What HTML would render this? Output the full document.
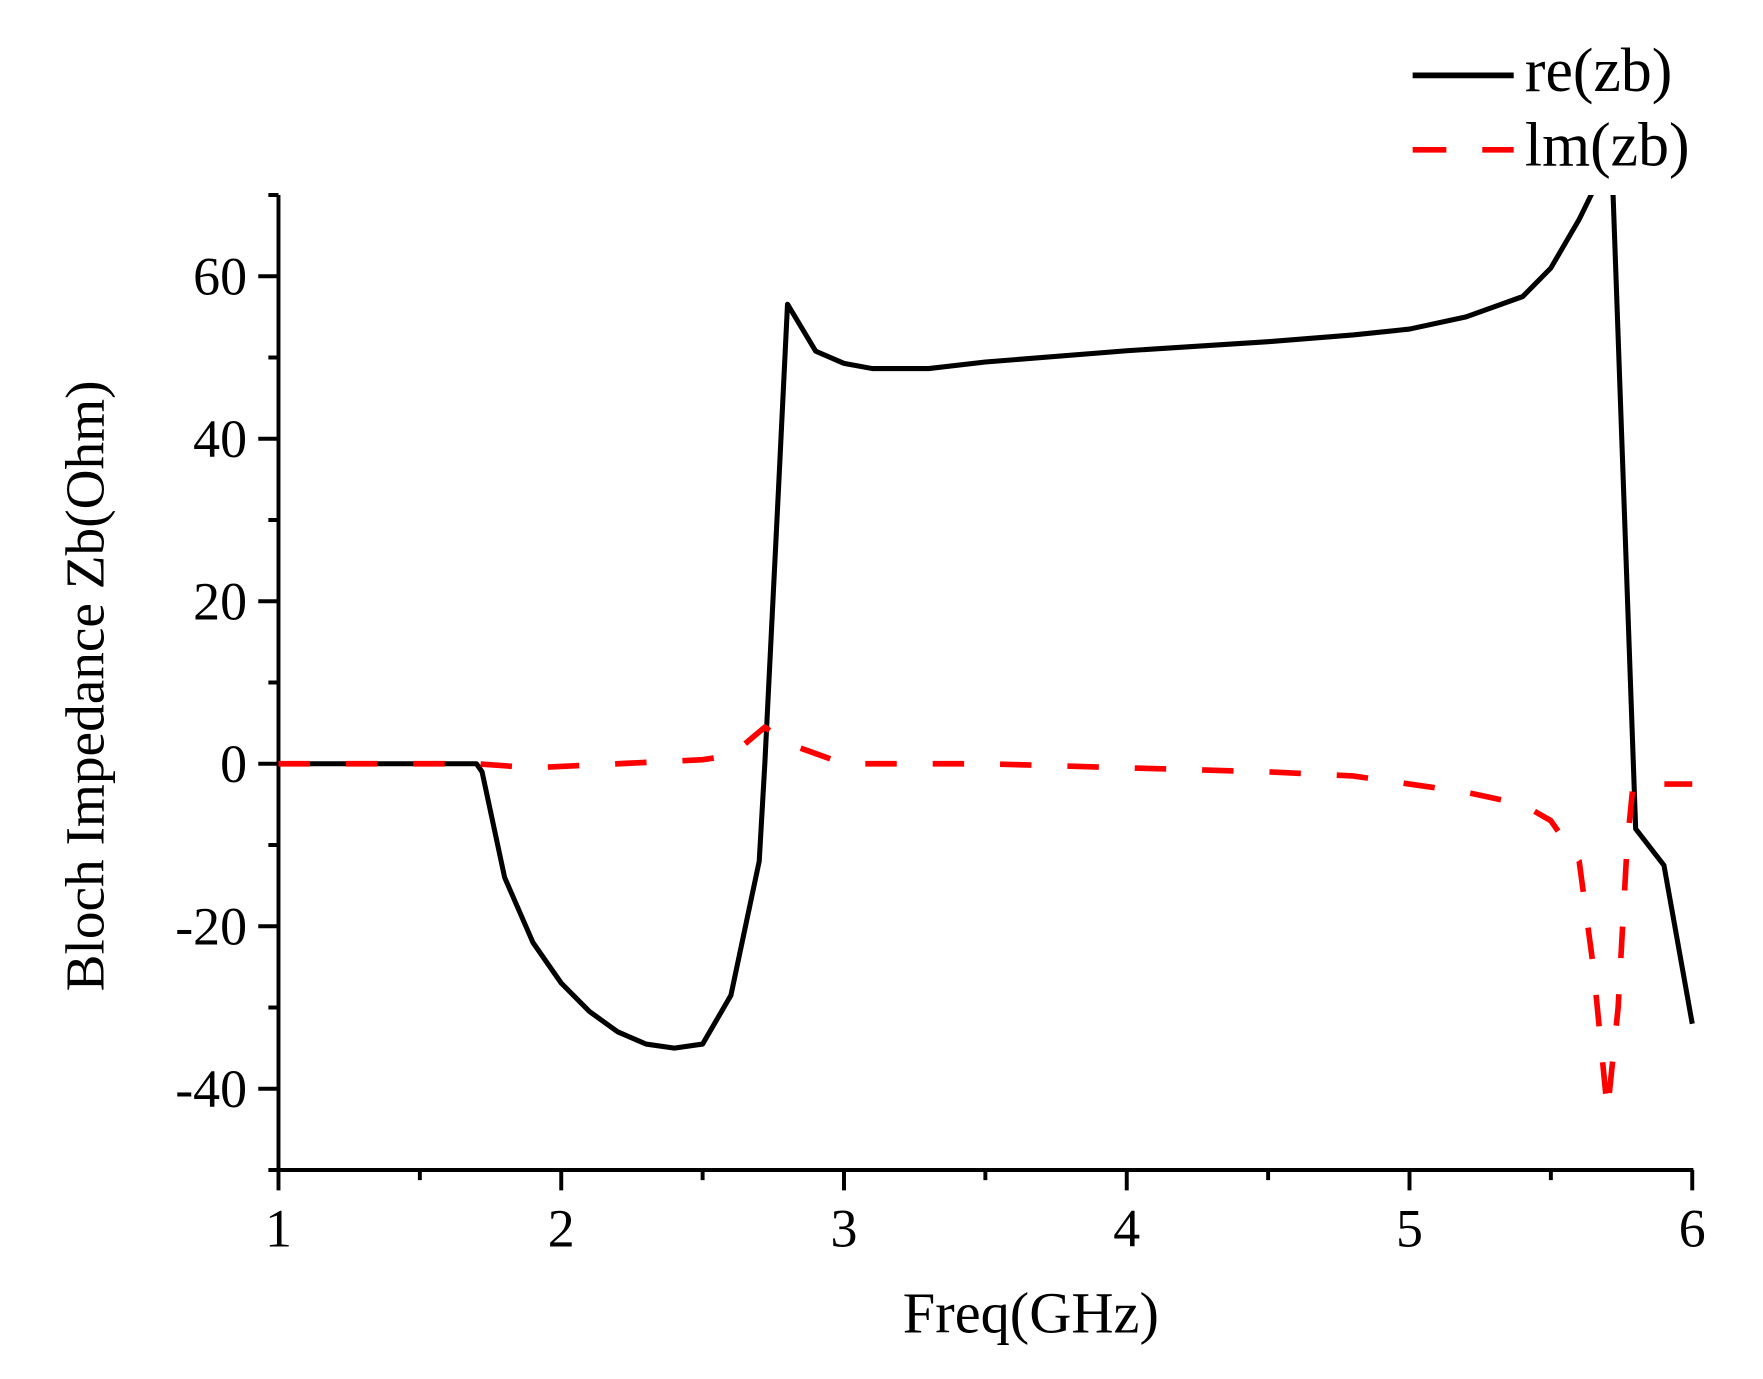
<!DOCTYPE html>
<html><head><meta charset="utf-8"><style>html,body{margin:0;padding:0;background:#fff}svg{display:block}</style></head>
<body>
<svg width="1763" height="1379" viewBox="0 1.2 1570 1222" preserveAspectRatio="none" xmlns="http://www.w3.org/2000/svg" font-family="Liberation Serif, serif">
<defs><clipPath id="c"><rect x="248" y="174" width="1262" height="864"/></clipPath></defs>
<g stroke="#000" stroke-width="3.5" fill="none">
<line x1="248" y1="174" x2="248" y2="1040"/>
<line x1="246" y1="1038" x2="1508" y2="1038"/>
<path d="M248 1038v18M499.8 1038v18M751.6 1038v18M1003.4 1038v18M1255.2 1038v18M1507 1038v18M373.9 1038v9M625.7 1038v9M877.5 1038v9M1129.3 1038v9M1381.1 1038v9"/>
<path d="M248 966h-18M248 822h-18M248 678h-18M248 534h-18M248 390h-18M248 246h-18M248 1038h-9M248 894h-9M248 750h-9M248 606h-9M248 462h-9M248 318h-9M248 174h-9"/>
</g>
<g font-size="48" fill="#000" text-anchor="middle">
<text x="248" y="1106">1</text><text x="499.8" y="1106">2</text><text x="751.6" y="1106">3</text><text x="1003.4" y="1106">4</text><text x="1255.2" y="1106">5</text><text x="1507" y="1106">6</text>
</g>
<g font-size="48" fill="#000" text-anchor="end">
<text x="220" y="982">-40</text><text x="220" y="838">-20</text><text x="220" y="694">0</text><text x="220" y="550">20</text><text x="220" y="406">40</text><text x="220" y="262">60</text>
</g>
<text x="918" y="1182" font-size="52" text-anchor="middle">Freq(GHz)</text>
<text transform="translate(92 609) rotate(-90)" font-size="49" text-anchor="middle">Bloch Impedance Zb(Ohm)</text>
<g clip-path="url(#c)" fill="none" stroke-linejoin="round">
<polyline stroke="#000" stroke-width="4.5" points="248,678 424.3,678 429.3,685.2 449.4,778.8 474.6,836.4 499.8,872.4 525,897.6 550.2,915.6 575.3,926.4 600.5,930 625.7,926.4 650.9,883.2 676.1,764.4 681.1,678 693.7,426 701.3,270.8 726.4,312.4 751.6,323.2 776.8,327.8 827.1,327.8 877.5,322 1003.4,312 1129.3,304 1205,298 1255.2,292.8 1305.6,282 1356,264 1381,238.8 1406.3,195.6 1418.9,170 1430,160 1436.5,174 1456.6,735.6 1481.8,768 1507,908.4"/>
<polyline stroke="#f00" stroke-width="5" stroke-dasharray="28 32" points="248,678 424.3,678 474.6,681.6 550.2,678 625.7,674.4 650.9,670.8 681.1,645.6 701.3,660 751.6,678 877.5,678 1003.4,681.6 1129.3,685.2 1204.8,688.8 1255.2,696 1305.6,703.2 1356,714 1381,728.4 1406.3,764.4 1418.9,858 1431.5,986 1441,894 1449,750 1454,699.6 1461.6,696 1507,696"/>
</g>
<line x1="1258" y1="68" x2="1348" y2="68" stroke="#000" stroke-width="5"/>
<line x1="1258" y1="134" x2="1348" y2="134" stroke="#f00" stroke-width="5" stroke-dasharray="30 32"/>
<text x="1358" y="82" font-size="55">re(zb)</text>
<text x="1358" y="148" font-size="55">lm(zb)</text>
</svg>
</body></html>
